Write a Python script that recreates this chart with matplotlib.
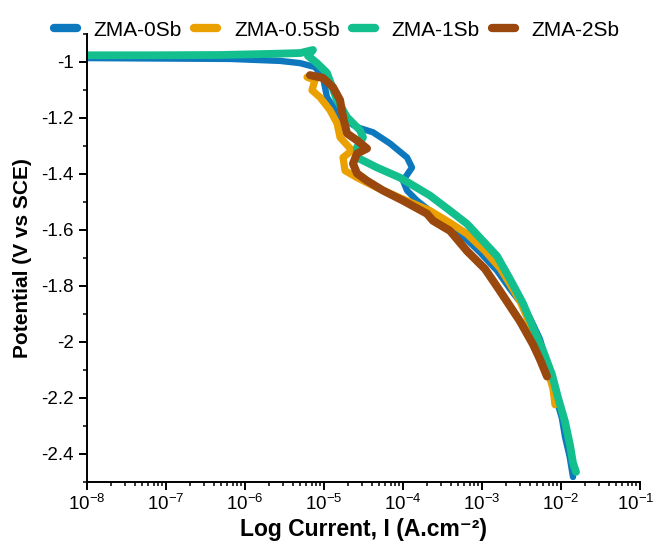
import numpy as np
import matplotlib
matplotlib.use("Agg")
import matplotlib.pyplot as plt
import matplotlib.transforms as mtransforms
from matplotlib.ticker import LogLocator, FixedLocator, MultipleLocator, NullFormatter

plt.rcParams['font.family'] = ['Liberation Sans', 'DejaVu Sans']
plt.rcParams['mathtext.fontset'] = 'custom'
plt.rcParams['mathtext.rm'] = 'Liberation Sans'
plt.rcParams['mathtext.it'] = 'Liberation Sans:italic'
plt.rcParams['mathtext.bf'] = 'Liberation Sans:bold'

series_names = ["ZMA-0Sb", "ZMA-0.5Sb", "ZMA-1Sb", "ZMA-2Sb"]
colors = ["#0E78BE", "#E9A000", "#14BF8E", "#9A480E"]

# log10 of current density (A/cm2) and potential (V vs SCE)
logi_0sb = [-8.00, -6.19, -5.557, -5.304, -5.114, -5.013, -4.962, -4.797, -4.582, -4.380,
            -4.165, -3.949, -3.886, -4.000, -3.949, -3.823, -3.620, -3.405, -3.190, -3.025,
            -2.810, -2.646, -2.481, -2.392, -2.266, -2.203, -2.114, -2.051, -1.990, -1.949,
            -1.890, -1.848]
e_0sb = [-0.986, -0.989, -0.996, -1.004, -1.018, -1.054, -1.126, -1.197, -1.233, -1.251,
         -1.291, -1.341, -1.377, -1.424, -1.459, -1.495, -1.540, -1.590, -1.635, -1.680,
         -1.745, -1.810, -1.870, -1.915, -1.990, -2.052, -2.130, -2.213, -2.270, -2.339,
         -2.410, -2.482]

logi_05sb = [-5.215, -5.114, -5.152, -5.051, -4.924, -4.835, -4.797, -4.646, -4.759, -4.734,
             -4.582, -4.329, -4.038, -3.658, -3.405, -3.190, -2.962, -2.772, -2.646, -2.519,
             -2.430, -2.354, -2.266, -2.177, -2.101, -2.076]
e_05sb = [-1.054, -1.065, -1.101, -1.126, -1.172, -1.219, -1.269, -1.316, -1.341, -1.388,
          -1.413, -1.449, -1.485, -1.531, -1.574, -1.614, -1.675, -1.736, -1.793, -1.854,
          -1.912, -1.973, -2.034, -2.095, -2.167, -2.224]

logi_1sb = [-8.00, -7.20, -6.32, -5.68, -5.30, -5.14, -5.203, -5.089, -4.962, -4.835,
            -4.709, -4.544, -4.506, -4.582, -4.582, -4.329, -4.038, -3.658, -3.405, -3.190,
            -2.810, -2.646, -2.481, -2.354, -2.228, -2.114, -2.038, -1.949, -1.886, -1.848,
            -1.810]
e_1sb = [-0.976, -0.976, -0.975, -0.971, -0.968, -0.957, -0.978, -1.004, -1.039, -1.136,
         -1.197, -1.244, -1.269, -1.305, -1.341, -1.377, -1.413, -1.477, -1.531, -1.578,
         -1.693, -1.775, -1.862, -1.948, -2.030, -2.116, -2.198, -2.285, -2.368, -2.432,
         -2.464]

logi_2sb = [-5.177, -5.013, -4.886, -4.797, -4.759, -4.709, -4.582, -4.456, -4.582, -4.633,
            -4.582, -4.456, -4.253, -4.000, -3.696, -3.620, -3.405, -3.190, -2.962, -2.772,
            -2.620, -2.519, -2.354, -2.266, -2.177]
e_2sb = [-1.047, -1.057, -1.090, -1.136, -1.197, -1.255, -1.280, -1.309, -1.327, -1.363,
         -1.398, -1.424, -1.459, -1.495, -1.542, -1.567, -1.603, -1.675, -1.739, -1.818,
         -1.883, -1.926, -2.009, -2.062, -2.123]

x_ticks = [1e-8, 1e-7, 1e-6, 1e-5, 1e-4, 1e-3, 1e-2, 1e-1]
y_ticks = [-1.0, -1.2, -1.4, -1.6, -1.8, -2.0, -2.2, -2.4]
y_ticklabels = ["-1", "-1.2", "-1.4", "-1.6", "-1.8", "-2", "-2.2", "-2.4"]

fig = plt.figure(figsize=(6.56, 5.44), dpi=100)
ax = fig.add_axes([87/656, 1-482/544, (640-87)/656, (482-34)/544])

data = [(logi_0sb, e_0sb), (logi_05sb, e_05sb), (logi_1sb, e_1sb), (logi_2sb, e_2sb)]
lws = [4.6, 5.2, 5.6, 5.8]
for (li, ev), name, c, lw in zip(data, series_names, colors, lws):
    ax.plot(10**np.array(li), ev, color=c, lw=lw, label=name,
            solid_capstyle='round', solid_joinstyle='round')

ax.set_xscale('log')
ax.set_xlim(1e-8, 1e-1)
ax.set_ylim(-2.5, -0.9)
ax.xaxis.set_major_locator(FixedLocator(x_ticks))
ax.xaxis.set_minor_locator(LogLocator(base=10, subs=np.arange(2, 10), numticks=20))
ax.xaxis.set_minor_formatter(NullFormatter())
ax.set_yticks(y_ticks)
ax.set_yticklabels(y_ticklabels)
ax.yaxis.set_minor_locator(MultipleLocator(0.1))

ax.spines['top'].set_visible(False)
ax.spines['right'].set_visible(False)
for s in ['left', 'bottom']:
    ax.spines[s].set_linewidth(1.4)
ax.tick_params(which='major', direction='out', length=6, width=1.4, labelsize=13.5)
ax.tick_params(axis='y', which='major', pad=3.5)
ax.tick_params(axis='x', which='major', pad=2.5)
ax.tick_params(which='minor', direction='out', length=3, width=1.1)

ax.set_xlabel("Log Current, I (A.cm\u207b\u00b2)", fontsize=16.5, fontweight='bold')
ax.xaxis.set_label_coords(0.5, -0.1317)
ax.xaxis.label.set_va('bottom')
ax.set_ylabel("Potential (V vs SCE)", fontsize=15, fontweight='bold')
ax.yaxis.set_label_coords(-0.116, 0.5)
ax.yaxis.label.set_va('center')

# nudge the last x tick label slightly left so it stays inside the figure
fig.canvas.draw()
last_lbl = ax.get_xticklabels()[-1]
last_lbl.set_transform(last_lbl.get_transform() +
                       mtransforms.ScaledTranslation(-4/100, 0, fig.dpi_scale_trans))

leg = fig.legend(loc='center left', bbox_to_anchor=(54/656, 1-30/544),
                 bbox_transform=fig.transFigure, ncol=4, frameon=False,
                 fontsize=15, handlelength=1.1, handletextpad=0.8, columnspacing=0.6,
                 borderaxespad=0, borderpad=0)
for h in leg.get_lines():
    h.set_linewidth(6)
    h.set_solid_capstyle('round')

fig.savefig("out.png", dpi=100)
